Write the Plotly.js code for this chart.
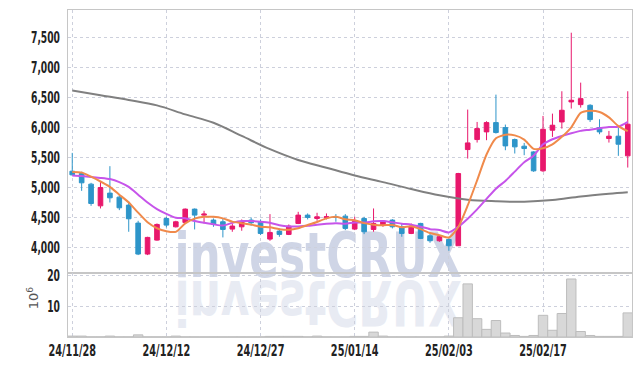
<!DOCTYPE html>
<html>
<head>
<meta charset="utf-8">
<script src="https://cdn.plot.ly/plotly-3.0.1.min.js"></script>
<style>
html,body{margin:0;padding:0;background:#fff;}
#chart{width:642px;height:366px;}
</style>
</head>
<body>
<div id="chart"></div>
<script>
const dates = ['24/11/28','24/11/29','24/12/02','24/12/03','24/12/04','24/12/05','24/12/06','24/12/09','24/12/10','24/12/11',
'24/12/12','24/12/13','24/12/16','24/12/17','24/12/18','24/12/19','24/12/20','24/12/23','24/12/24','24/12/26',
'24/12/27','24/12/30','25/01/02','25/01/03','25/01/06','25/01/07','25/01/08','25/01/09','25/01/10','25/01/13',
'25/01/14','25/01/15','25/01/16','25/01/17','25/01/20','25/01/21','25/01/22','25/01/23','25/01/24','25/01/31',
'25/02/03','25/02/04','25/02/05','25/02/06','25/02/07','25/02/10','25/02/11','25/02/12','25/02/13','25/02/14',
'25/02/17','25/02/18','25/02/19','25/02/20','25/02/21','25/02/24','25/02/25','25/02/26','25/02/27','25/02/28'];

const openP  = [5272,5233,5056,4694,4906,4839,4706,4406,3889,4122,
4483,4344,4417,4639,4539,4456,4428,4306,4344,4456,
4430,4139,4272,4217,4400,4539,4483,4494,4511,4522,
4306,4483,4300,4372,4456,4344,4233,4400,4194,4111,
4133,4028,5633,5800,5928,6083,6000,5800,5689,5594,
5278,5956,6094,6428,6383,6372,6000,5817,5856,5528];
const highP  = [5578,5261,5078,5094,5356,4872,4772,4444,4178,4400,
4511,4444,4650,4650,4611,4483,4483,4400,4467,4500,
4467,4556,4317,4383,4594,4567,4578,4567,4556,4556,
4511,4511,4650,4456,4472,4400,4400,4411,4233,4189,
4150,5244,6300,6094,6106,6550,6050,5817,5744,5606,
6194,6233,6606,7583,6750,6389,6139,5944,6000,6606];
const lowP   = [5200,4944,4694,4650,4750,4622,4261,3872,3872,4111,
4333,4333,4411,4300,4400,4344,4167,4261,4278,4361,
4206,4111,4178,4206,4389,4467,4444,4467,4428,4289,
4289,4222,4261,4344,4317,4178,4222,4139,4078,4094,
3944,4028,5483,5750,5789,5900,5622,5567,5539,5261,
5261,5844,5983,6317,6333,6094,5889,5750,5528,5333];
const closeP = [5211,5078,4733,5000,4828,4661,4478,3889,4167,4383,
4372,4428,4639,4539,4556,4389,4300,4356,4428,4411,
4233,4250,4217,4356,4539,4500,4511,4511,4500,4317,
4433,4261,4400,4439,4344,4233,4356,4150,4111,4178,
4028,5233,5744,5983,6083,5917,5694,5678,5650,5278,
5972,6039,6289,6456,6483,6133,5928,5856,5722,6056];

// volume, millions of shares
const volume = [0.3,0.3,0.05,0.05,0.3,0.05,0.05,0.7,0.05,0.05,
0.05,0.3,0.05,0.05,0.05,0.05,0.05,0.05,0.05,0.05,
0.05,0.2,0.2,0.2,0.2,0.05,0.3,0.05,0.05,0.05,
0.2,0.2,1.6,0.3,0.05,0.05,0.05,0.05,0.05,0.05,
0.3,6.3,17.4,6.0,2.5,5.4,1.3,0.5,0.2,0.5,
7.1,2.2,7.7,19.0,1.8,0.5,0.2,0.2,0.2,7.9];

// short moving average (orange)
const maShort = [5260,5250,5180,5100,5010,4880,4750,4580,4420,4320,
4270,4260,4400,4480,4510,4510,4485,4430,4405,4380,
4345,4335,4305,4295,4320,4375,4425,4485,4510,4470,
4455,4405,4380,4370,4375,4335,4355,4305,4240,4205,
4165,4340,4700,5120,5550,5820,5880,5870,5800,5645,
5655,5720,5845,6005,6245,6280,6260,6170,6025,5940];
// mid moving average (purple)
const maMid = [5200,5190,5175,5160,5140,5090,5010,4880,4750,4640,
4560,4495,4485,4440,4410,4385,4365,4410,4440,4440,
4430,4410,4370,4350,4350,4360,4380,4395,4405,4395,
4415,4415,4435,4440,4420,4395,4380,4345,4305,4290,
4250,4345,4480,4635,4810,4980,5110,5265,5420,5530,
5720,5805,5860,5905,5945,5965,5990,6010,6015,6095];
// long moving average (gray), read every third session
const maLongDates = ['24/11/28','24/12/03','24/12/06','24/12/11','24/12/16','24/12/19','24/12/24','24/12/30','25/01/06','25/01/09',
'25/01/14','25/01/17','25/01/22','25/01/31','25/02/05','25/02/10','25/02/13','25/02/18','25/02/21','25/02/26','25/02/28'];
const maLong = [6620,6540,6460,6370,6220,6080,5860,5640,5460,5330,
5200,5090,4975,4870,4795,4770,4762,4790,4850,4895,4920];

const tickDates = ['24/11/28','24/12/12','24/12/27','25/01/14','25/02/03','25/02/17'];
const priceTicks = [4000,4500,5000,5500,6000,6500,7000,7500];
const volTicks = [10,20];

const UP = '#e8186c', DOWN = '#2e95c9';
const FONT = '"DejaVu Sans Condensed","DejaVu Sans",sans-serif';
const tickFont = {family:FONT, size:15, color:'#222', weight:'bold'};
const gridC = '#cdd0dc';

const traces = [
  {type:'bar', x:dates, y:volume, xaxis:'x', yaxis:'y2',
   marker:{color:'#d8d8d8', line:{color:'#bdbdbd', width:1}}, hoverinfo:'skip'},
  {type:'scatter', mode:'lines', x:maLongDates, y:maLong, xaxis:'x', yaxis:'y',
   line:{color:'#808080', width:2, shape:'spline'}, hoverinfo:'skip'},
  {type:'scatter', mode:'lines', x:dates, y:maMid, xaxis:'x', yaxis:'y',
   line:{color:'#c654ea', width:2, shape:'spline', smoothing:0.6}, hoverinfo:'skip'},
  {type:'scatter', mode:'lines', x:dates, y:maShort, xaxis:'x', yaxis:'y',
   line:{color:'#f08a4b', width:2, shape:'spline', smoothing:0.6}, hoverinfo:'skip'},
  {type:'candlestick', x:dates, open:openP, high:highP, low:lowP, close:closeP, xaxis:'x', yaxis:'y',
   increasing:{line:{color:UP, width:1}, fillcolor:UP},
   decreasing:{line:{color:DOWN, width:1}, fillcolor:DOWN},
   whiskerwidth:0, hoverinfo:'skip'}
];

const layout = {
  width:642, height:366,
  margin:{l:68, r:10, t:9.5, b:29, pad:0},
  paper_bgcolor:'#ffffff', plot_bgcolor:'rgba(0,0,0,0)',
  showlegend:false, bargap:0,
  xaxis:{type:'category', categoryorder:'array', categoryarray:dates, range:[-0.45, 59.45],
    anchor:'y2', tickmode:'array', tickvals:tickDates, ticktext:tickDates,
    showgrid:true, gridcolor:gridC, griddash:'dot', gridwidth:1,
    showline:true, linecolor:'#c6c6c6', mirror:'all', ticks:'', tickfont:tickFont,
    rangeslider:{visible:false}, fixedrange:true},
  yaxis:{domain:[0.197,1], range:[3580,7962], tickmode:'array', tickvals:priceTicks,
    tickformat:',d', showgrid:true, gridcolor:gridC, griddash:'dot',
    showline:true, linecolor:'#c6c6c6', mirror:true, ticks:'', tickfont:tickFont,
    ticklabelstandoff:4, zeroline:false, fixedrange:true},
  yaxis2:{domain:[0,0.197], range:[0,21.1], tickmode:'array', tickvals:volTicks,
    showgrid:true, gridcolor:gridC, griddash:'dot',
    showline:true, linecolor:'#c6c6c6', mirror:true, ticks:'', tickfont:tickFont,
    ticklabelstandoff:4, zeroline:false, fixedrange:true},
  annotations:[{text:'10<sup>6</sup>', xref:'paper', yref:'paper', x:-0.08, y:0.08,
    textangle:-90, showarrow:false, font:{family:'DejaVu Sans, sans-serif', size:13, color:'#555'}}]
};

Plotly.newPlot('chart', traces, layout, {staticPlot:true, displayModeBar:false}).then(function(gd){
  // condense tick labels to match the narrow face of the original
  function squeeze(sel, f){
    gd.querySelectorAll(sel).forEach(function(t){
      const w = t.getComputedTextLength();
      if(w > 0){ t.setAttribute('textLength', (w*f).toFixed(1)); t.setAttribute('lengthAdjust','spacingAndGlyphs'); }
    });
  }
  squeeze('g.xtick text', 0.72);
  squeeze('g.ytick text', 0.68);
  squeeze('g.y2tick text', 0.68);

  const below = gd.querySelector('.layer-below');
  if(!below) return;
  const NS = 'http://www.w3.org/2000/svg';
  function mk(fill, transform){
    const t = document.createElementNS(NS,'text');
    t.setAttribute('x','318'); t.setAttribute('y','277');
    t.setAttribute('text-anchor','middle');
    t.setAttribute('font-family', FONT);
    t.setAttribute('font-weight','bold');
    t.setAttribute('font-size','63');
    t.setAttribute('textLength','287');
    t.setAttribute('lengthAdjust','spacingAndGlyphs');
    t.setAttribute('fill', fill);
    if(transform) t.setAttribute('transform', transform);
    t.textContent = 'investCRUX';
    below.appendChild(t);
  }
  mk('#e8ebf3', 'translate(0,558) scale(1,-1)');
  mk('#cfd5e6', null);
});
</script>
</body>
</html>
